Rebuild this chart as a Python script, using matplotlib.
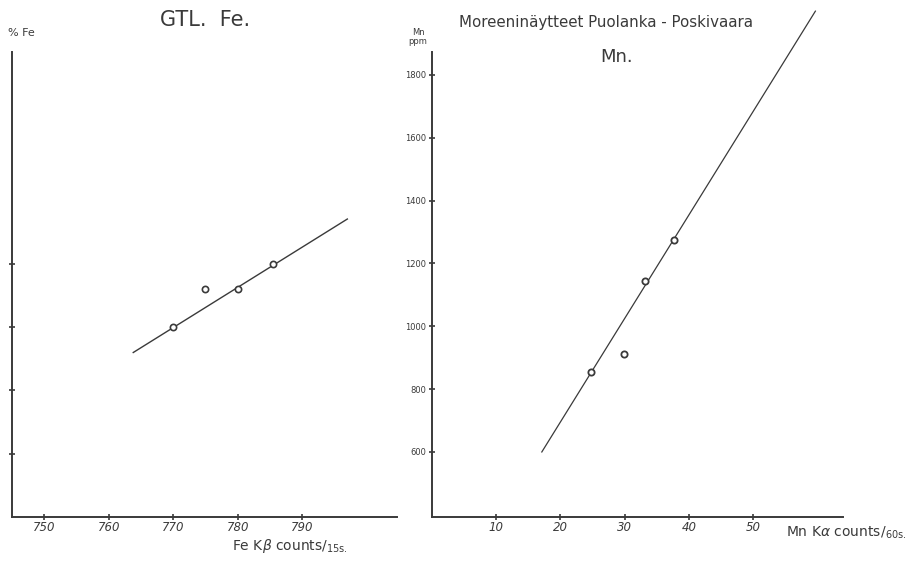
import matplotlib.pyplot as plt
import numpy as np

# left panel: GTL Fe
fe_counts = [770, 775, 780, 785.5]
fe_pct = [3.0, 3.6, 3.6, 4.0]
fe_fit_x = [763.8, 797.0]
fe_fit_y = [2.6, 4.71]
fe_xticks = [750, 760, 770, 780, 790]
fe_yticks = [1, 2, 3, 4]

# right panel: Mn
mn_counts = [24.8, 29.9, 33.2, 37.7, 57.0]
mn_ppm = [854, 911, 1143, 1276, 1918]
mn_fit_x = [17.1, 59.7]
mn_fit_y = [600, 2003]
mn_xticks = [10, 20, 30, 40, 50]
mn_yticks = [600, 800, 1000, 1200, 1400, 1600, 1800]

ink = '#3a3a3a'
plt.rcParams['font.family'] = ['DejaVu Sans']

fig = plt.figure(figsize=(9.1, 5.61), dpi=100)
W, H = 910, 561


def px_axes(x0, y0, x1, y1):
    return fig.add_axes([x0 / W, 1 - y1 / H, (x1 - x0) / W, (y1 - y0) / H])


def style(ax):
    for s in ['top', 'right']:
        ax.spines[s].set_visible(False)
    for s in ['left', 'bottom']:
        ax.spines[s].set_color(ink)
        ax.spines[s].set_linewidth(1.4)
    ax.tick_params(direction='inout', length=4, width=1.2, color=ink,
                   labelcolor=ink)
    ax.tick_params(axis='x', pad=1)
    ax.set_facecolor('none')


ax1 = px_axes(12, 52, 397, 517)
style(ax1)
ax1.set_xlim(745, 804.7)
ax1.set_ylim(0, 7.35)
ax1.plot(fe_fit_x, fe_fit_y, color=ink, lw=1.0)
ax1.plot(fe_counts, fe_pct, 'o', ms=4.5, mfc='white', mec=ink, mew=1.2)
ax1.set_xticks(fe_xticks)
ax1.set_xticklabels([str(t) for t in fe_xticks], fontsize=8.5, style='italic')
ax1.set_yticks(fe_yticks)
ax1.set_yticklabels([])
fig.text(205 / W, 1 - 20 / H, 'GTL.  Fe.', ha='center', va='center',
         fontsize=15, color=ink)
fig.text(8 / W, 1 - 33 / H, '% Fe', ha='left', va='center', fontsize=8,
         color=ink)
fig.text(290 / W, 1 - 546 / H, r'Fe K$\beta$ counts/$_{\mathregular{15s.}}$',
         ha='center', va='center', fontsize=10, color=ink)

ax2 = px_axes(432, 52, 843, 517)
style(ax2)
ax2.set_xlim(0, 64)
ax2.set_ylim(393, 1873)
ax2.plot(mn_fit_x, mn_fit_y, color=ink, lw=0.9, clip_on=False)
ax2.plot(mn_counts, mn_ppm, 'o', ms=4.5, mfc='white', mec=ink, mew=1.3)
ax2.set_xticks(mn_xticks)
ax2.set_xticklabels([str(t) for t in mn_xticks], fontsize=8.5, style='italic')
ax2.set_yticks(mn_yticks)
ax2.set_yticklabels([str(t) for t in mn_yticks], fontsize=6)
ax2.tick_params(axis='y', pad=2)
fig.text(606 / W, 1 - 22 / H, 'Moreeninäytteet Puolanka - Poskivaara',
         ha='center', va='center', fontsize=10.8, color=ink)
fig.text(617 / W, 1 - 57 / H, 'Mn.', ha='center', va='center', fontsize=13,
         color=ink)
fig.text(418 / W, 1 - 37 / H, 'Mn\nppm', ha='center', va='center',
         fontsize=6, color=ink, linespacing=0.9)
fig.text(846 / W, 1 - 533 / H, r'Mn K$\alpha$ counts/$_{\mathregular{60s.}}$',
         ha='center', va='center', fontsize=10, color=ink)

fig.savefig('out.png', dpi=100, facecolor='white')
